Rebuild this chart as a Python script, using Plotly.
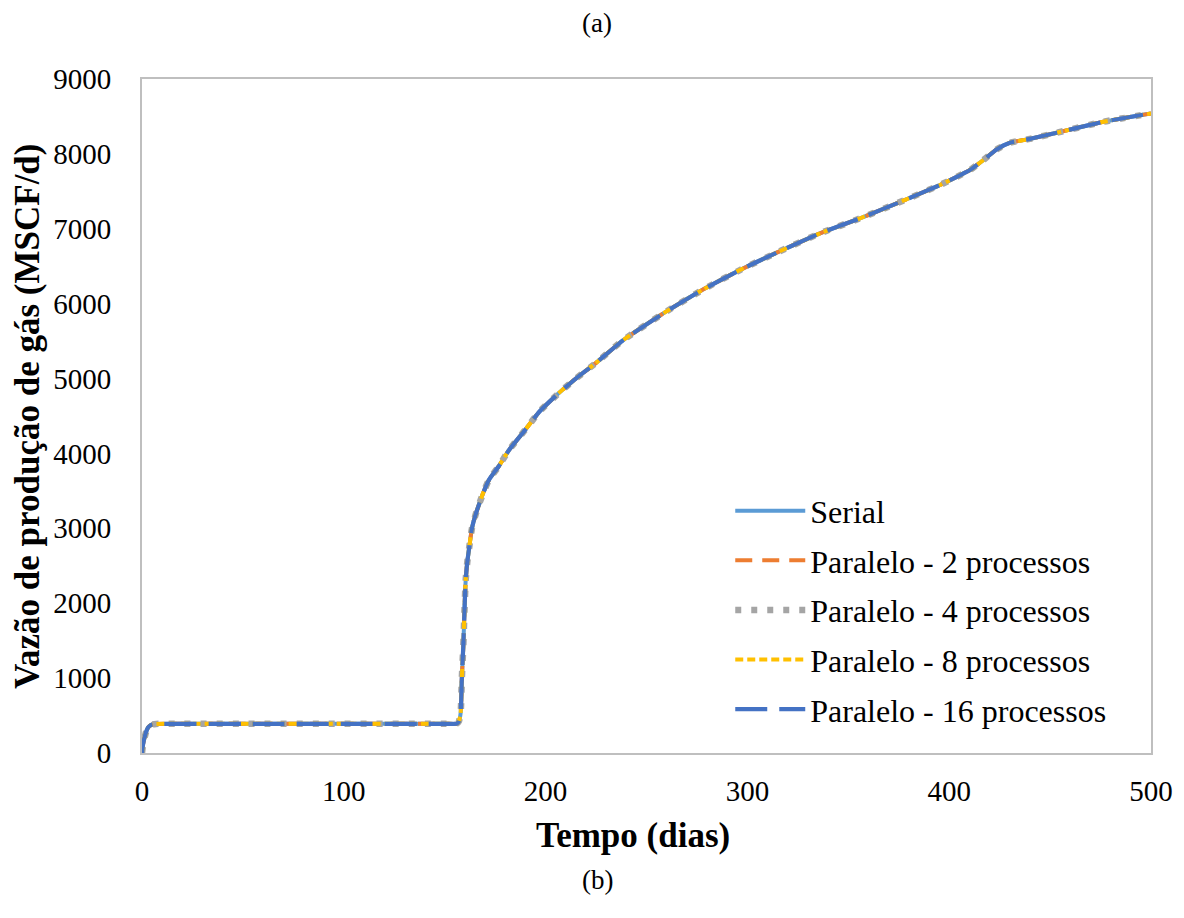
import plotly.graph_objects as go

# ---- data ----
tempo_dias = [0, 0.5, 1, 1.5, 2, 3, 4, 5, 7, 20, 50, 100, 150, 156, 157,
              157.9, 158.5, 159.2, 159.8, 160.4, 161.2, 162.2, 163.5, 165.5,
              169, 172, 176.6, 182, 189.8, 197, 206.3, 215, 225, 238.5,
              258.3, 278.2, 296.3, 314.5, 336, 355.8, 374, 395.4, 405, 410.3,
              416.9, 423.5, 430.1, 440, 453.3, 476.4, 500]
vazao_serial = [0, 110, 180, 230, 280, 340, 365, 380, 388, 390, 390, 390, 390, 392, 420,
                534, 1000, 1420, 1900, 2310, 2550, 2754, 3000, 3200,
                3467, 3650, 3822, 4050, 4312, 4560, 4800, 5000, 5210, 5514,
                5870, 6191, 6449, 6681, 6939, 7139, 7339, 7584, 7710, 7784,
                7917, 8060, 8149, 8200, 8282, 8429, 8540]
vazao_p2 = list(vazao_serial)
vazao_p4 = list(vazao_serial)
vazao_p8 = list(vazao_serial)
vazao_p16 = list(vazao_serial)

series_names = ["Serial", "Paralelo - 2 processos", "Paralelo - 4 processos",
                "Paralelo - 8 processos", "Paralelo - 16 processos"]
series_values = [vazao_serial, vazao_p2, vazao_p4, vazao_p8, vazao_p16]
series_colors = ["#5B9BD5", "#ED7D31", "#A5A5A5", "#FFC000", "#4472C4"]
series_dash = ["solid", "17px,10px", "6px,10px", "8px,4px", "32px,12px"]
series_width = [4, 4, 6.5, 4, 4.2]

x_ticks = [0, 100, 200, 300, 400, 500]
y_ticks = [0, 1000, 2000, 3000, 4000, 5000, 6000, 7000, 8000, 9000]

FONT = "Liberation Serif, Times New Roman, serif"

fig = go.Figure()
for name, vals, col, dash, w in zip(series_names, series_values, series_colors,
                                    series_dash, series_width):
    fig.add_trace(go.Scatter(
        x=tempo_dias, y=vals, name=name, mode="lines",
        line=dict(color=col, dash=dash, width=w, shape="spline", smoothing=0.5),
        legendgroup=name,
    ))

fig.update_layout(
    width=1184, height=918,
    margin=dict(l=142, r=33, t=79, b=165),
    paper_bgcolor="white", plot_bgcolor="white",
    font=dict(family=FONT, size=29, color="black"),
    showlegend=True,
    legend=dict(
        x=0.583, y=0.40, xanchor="left", yanchor="top",
        bgcolor="rgba(0,0,0,0)", borderwidth=0,
        font=dict(family=FONT, size=32, color="black"),
        itemwidth=70, tracegroupgap=5,
    ),
    xaxis=dict(
        range=[0, 500], tickvals=x_ticks, ticktext=[str(v) for v in x_ticks],
        showgrid=False, zeroline=False, showline=True, mirror=True,
        linecolor="#BFBFBF", linewidth=2, ticks="", ticklabelstandoff=11,
        tickfont=dict(family=FONT, size=29, color="black"),
    ),
    yaxis=dict(
        range=[0, 9000], tickvals=y_ticks, ticktext=[str(v) for v in y_ticks],
        showgrid=False, zeroline=False, showline=True, mirror=True,
        linecolor="#BFBFBF", linewidth=2, ticks="", ticklabelstandoff=23,
        tickfont=dict(family=FONT, size=29, color="black"),
    ),
    annotations=[
        dict(text="(a)", x=0.451, y=1.083, xref="paper", yref="paper",
             xanchor="center", yanchor="middle",
             showarrow=False, font=dict(family=FONT, size=27, color="black")),
        dict(text="(b)", x=0.451, y=-0.188, xref="paper", yref="paper",
             xanchor="center", yanchor="middle",
             showarrow=False, font=dict(family=FONT, size=27, color="black")),
        dict(text="<b>Tempo (dias)</b>", x=0.487, y=-0.123, xref="paper", yref="paper",
             xanchor="center", yanchor="middle",
             showarrow=False, font=dict(family=FONT, size=35, color="black")),
        dict(text="<b>Vazão de produção de gás (MSCF/d)</b>", x=-0.114, y=0.5,
             xref="paper", yref="paper", textangle=-90, showarrow=False,
             xanchor="center", yanchor="middle",
             font=dict(family=FONT, size=35, color="black")),
    ],
)

fig.write_html("out.html")
